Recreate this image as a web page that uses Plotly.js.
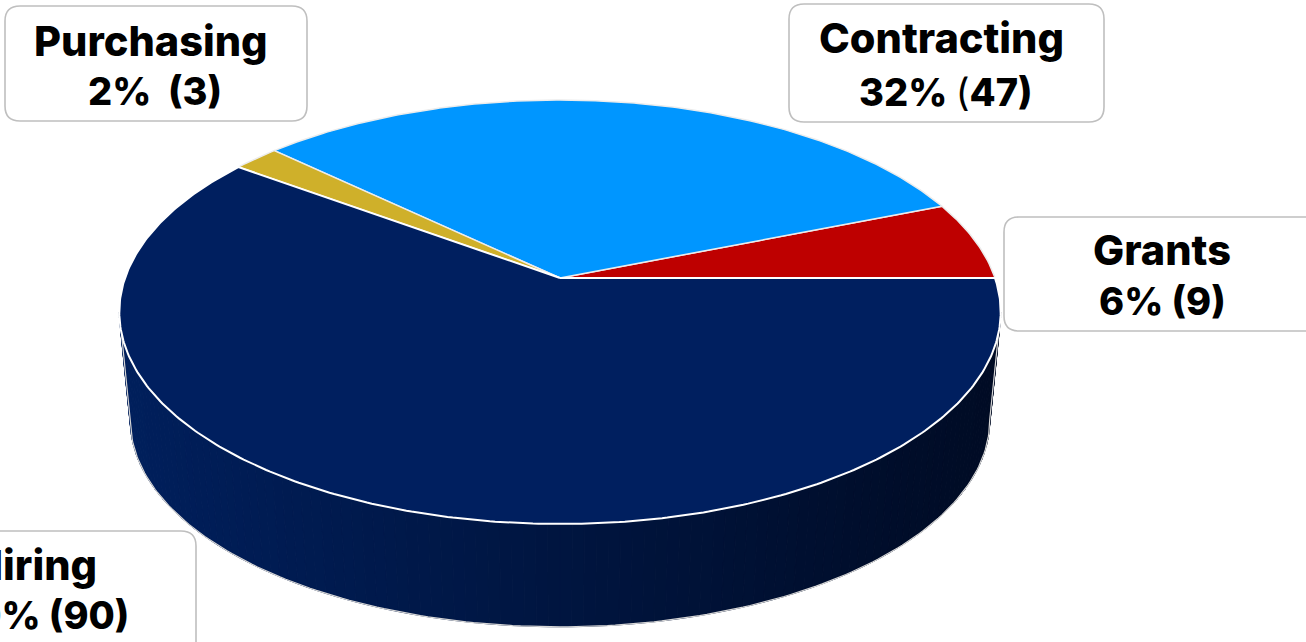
<!DOCTYPE html>
<html>
<head>
<meta charset="utf-8">
<script src="https://cdn.plot.ly/plotly-3.0.1.min.js"></script>
<style>html,body{margin:0;padding:0;background:#fff;overflow:hidden}#chart{width:1306px;height:642px}</style>
</head>
<body>
<div id="chart"></div>
<script>
// Data
const categories = ["Grants", "Contracting", "Purchasing", "Hiring"];
const percents = [6, 32, 2, 60];
const counts = [9, 47, 3, 90];
const sliceColors = ["#BE0000", "#0096FF", "#CFB02A", "#001F5F"];
const secondLines = ["6% (9)", "32% <span style=\"font-weight:400\">(</span>47)", "2%  (3)", "60% (90)"];
const line1X = [1162, 941, 151, 34];
const line2X = [1162, 946, 155, 39];
const line1Y = [250, 38, 41, 565];
const line2Y = [301, 92, 91, 615];
const boxes = [[1004, 217, 1320, 331], [789, 4, 1104, 122], [5, 6, 307, 121], [-20, 531, 196, 660]];

// Perspective view of the disc
const cx = 560, topY = 278, A = 435, B = 206.5, K = 0.1604;
const wallScale = 0.975, wallY = 387;
function project(t, scale, y0) {
  const u = Math.cos(t), v = Math.sin(t), d = 1 + K * v;
  return [cx + scale * A * u / d, y0 - scale * B * v / d];
}
const total = percents.reduce((a, b) => a + b, 0);
const traces = [];
const base = {mode: "lines", fill: "toself", hoverinfo: "skip", showlegend: false};

// Side wall, in narrow strips for the horizontal shading
const wallLeft = [0, 31, 92], wallRight = [0, 11, 36];
const stripCount = 120;
const tilt = Math.asin(K), wallStart = Math.PI + tilt, wallSpan = Math.PI - 2 * tilt;
for (let i = 0; i < stripCount; i++) {
  const a = wallStart + wallSpan * i / stripCount, b = wallStart + wallSpan * (i + 1) / stripCount;
  const p1 = project(a, 1, topY), p2 = project(b, 1, topY), p3 = project(b, wallScale, wallY), p4 = project(a, wallScale, wallY);
  const mx = (p1[0] + p2[0]) / 2, f = Math.min(1, Math.max(0, (mx - 119) / 882));
  const c = wallLeft.map((w, j) => Math.round(w + (wallRight[j] - w) * f));
  const col = `rgb(${c.join(",")})`;
  traces.push(Object.assign({}, base, {
    x: [p1[0], p2[0], p3[0], p4[0], p1[0]], y: [p1[1], p2[1], p3[1], p4[1], p1[1]],
    fillcolor: col, line: {color: col, width: 1}
  }));
}
// Wall outline
const ox = [], oy = [];
for (let i = 0; i <= 180; i++) {
  const p = project(wallStart + wallSpan * i / 180, wallScale, wallY);
  ox.push(p[0]); oy.push(p[1]);
}
const wallA = project(wallStart, 1, topY), wallB = project(wallStart + wallSpan, 1, topY);
traces.push({x: [wallA[0], ...ox, wallB[0]], y: [wallA[1], ...oy, wallB[1]],
             mode: "lines", hoverinfo: "skip", showlegend: false, line: {color: "#d6d6d6", width: 1.2}});

// Top face slices
let start = 0;
percents.forEach((val, idx) => {
  const sweep = 2 * Math.PI * val / total;
  const xs = [cx], ys = [topY];
  const n = Math.max(8, Math.round(val * 6));
  for (let i = 0; i <= n; i++) {
    const p = project(start + sweep * i / n, 1, topY);
    xs.push(p[0]); ys.push(p[1]);
  }
  xs.push(cx); ys.push(topY);
  traces.push(Object.assign({}, base, {
    name: categories[idx] + " " + counts[idx], x: xs, y: ys, fillcolor: sliceColors[idx],
    line: {color: idx === 3 ? "#ffffff" : "#ececec", width: idx === 3 ? 2 : 1.5}
  }));
  start += sweep;
});

const rad = 15;
const shapes = boxes.map(b => {
  const [x0, y0, x1, y1] = b, r = rad;
  return {type: "path", xref: "x", yref: "y", layer: "above",
    path: `M${x0 + r},${y0} L${x1 - r},${y0} Q${x1},${y0} ${x1},${y0 + r} L${x1},${y1 - r} Q${x1},${y1} ${x1 - r},${y1} L${x0 + r},${y1} Q${x0},${y1} ${x0},${y1 - r} L${x0},${y0 + r} Q${x0},${y0} ${x0 + r},${y0} Z`,
    fillcolor: "#ffffff", line: {color: "#bfbfbf", width: 1.6}};
});
const annotations = [];
categories.forEach((c, i) => {
  const common = {xref: "x", yref: "y", xanchor: "center", yanchor: "middle", showarrow: false, align: "center"};
  annotations.push(Object.assign({}, common, {x: line1X[i], y: line1Y[i], text: c,
    font: {family: "Inter, 'Open Sans', sans-serif", size: 41.5, color: "#000000", weight: 800}}));
  annotations.push(Object.assign({}, common, {x: line2X[i], y: line2Y[i], text: secondLines[i],
    font: {family: "Inter, 'Open Sans', sans-serif", size: 38, color: "#000000", weight: 800}}));
});

Plotly.newPlot("chart", traces, {
  width: 1306, height: 642, margin: {l: 0, r: 0, t: 0, b: 0},
  paper_bgcolor: "#ffffff", plot_bgcolor: "#ffffff", showlegend: false,
  xaxis: {range: [0, 1306], visible: false, fixedrange: true},
  yaxis: {range: [642, 0], visible: false, fixedrange: true},
  shapes, annotations
}, {displayModeBar: false, staticPlot: true});
</script>
</body>
</html>
